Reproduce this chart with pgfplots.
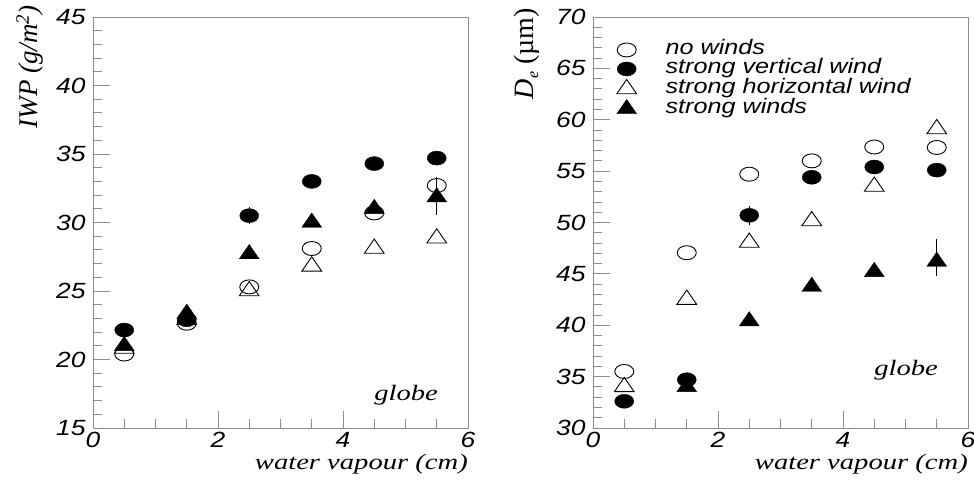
\documentclass[border=0pt]{standalone}
\usepackage{fontspec}
\setmainfont{Liberation Serif}
\newfontfamily\tickfont[FakeStretch=1.2]{Liberation Sans}
\newfontfamily\labfont[FakeStretch=1.3]{Liberation Serif}
\usepackage{pgfplots}
\pgfplotsset{compat=1.18}
\newcommand\tk{\tickfont\itshape\fontsize{22}{22}\selectfont}
\definecolor{axgray}{RGB}{140,140,140}
\pgfplotsset{
  myax/.style={
    scale only axis, width=375pt, height=411pt,
    xmin=0, xmax=6, xtick={0,2,4,6}, minor x tick num=3,
    axis line style={axgray, line width=0.9pt},
    every tick/.style={axgray, line width=0.9pt},
    major tick length=17pt, minor tick length=9pt,
    tick align=inside, xtick pos=lower, ytick pos=left,
    ticklabel style={font=\tk, black},
    yticklabel style={xshift=-4pt},
    xticklabel style={yshift=-1pt},
    /pgf/number format/assume math mode=true,
    clip=false,
    xlabel={water vapour (cm)},
    xlabel style={font=\labfont\itshape\fontsize{22}{22}\selectfont, at={(axis description cs:1,0)}, anchor=north east, yshift=-26pt, inner sep=0pt},
  },
  oc/.style={only marks, mark=o, mark size=7pt, mark options={xscale=1.36, black, line width=0.9pt}},
  fc/.style={only marks, mark=*, mark size=7pt, mark options={xscale=1.36, black, fill=black}},
  ot/.style={only marks, mark=triangle, mark size=9.5pt, mark options={xscale=1.2, black, line width=0.9pt}},
  ft/.style={only marks, mark=triangle*, mark size=9.5pt, mark options={xscale=1.2, black, fill=black}},
  eb/.style={error bars/.cd, y dir=both, y explicit, error bar style={black, line width=0.9pt}, error mark=none},
}
\begin{document}
\begin{tikzpicture}
\useasboundingbox (0,0) rectangle (974pt,483pt);
% ---------- left panel ----------
\begin{axis}[myax, at={(93pt,55pt)}, anchor=south west,
  ymin=15, ymax=45, ytick={15,20,...,45}, minor y tick num=4]
\addplot[oc] coordinates {(0.5,20.4) (1.5,22.65) (2.5,25.3) (3.5,28.1) (4.5,30.7) (5.5,32.7)};
\addplot[fc, eb] coordinates {(0.5,22.15) (1.5,22.9) (2.5,30.5) +- (0,0.6) (3.5,33.0) (4.5,34.3) (5.5,34.7)};
\addplot[ot] coordinates {(0.5,20.8) (1.5,22.9) (2.5,25.0) (3.5,26.8) (4.5,28.1) (5.5,28.85)};
\addplot[ft, eb] coordinates {(0.5,21.0) (1.5,23.35) (2.5,27.7) (3.5,30.0) (4.5,31.0) (5.5,31.85) += (0,1.45) -= (0,1.3)};
\node[font=\labfont\itshape\fontsize{22}{22}\selectfont, anchor=base east, inner sep=0pt] at (rel axis cs:0.92,0.068) {globe};
\node[font=\fontsize{27}{27}\selectfont\itshape, rotate=90, anchor=east, inner sep=0pt] at ([xshift=-63pt,yshift=12pt]rel axis cs:0,1) {IWP (g/m\textsuperscript{2})};
\end{axis}
% ---------- right panel ----------
\begin{axis}[myax, at={(593pt,55pt)}, anchor=south west,
  ymin=30, ymax=70, ytick={30,35,...,70}, minor y tick num=4,
  legend style={at={(rel axis cs:0.063,0.941)}, anchor=north west, draw=none, fill=none, inner sep=0pt,
    font=\tickfont\itshape\fontsize{21}{21}\selectfont, row sep=2pt,
    nodes={inner sep=0pt, text height=13pt, text depth=4pt},
    /tikz/every odd column/.style={column sep=29pt}},
  legend cell align=left]
\addplot[oc] coordinates {(0.5,35.5) (1.5,47.06) (2.5,54.7) (3.5,56.0) (4.5,57.35) (5.5,57.3)};
\addlegendentry{no winds}
\addplot[fc, eb] coordinates {(0.5,32.6) (1.5,34.7) (2.5,50.7) +- (0,0.9) (3.5,54.4) (4.5,55.4) (5.5,55.1)};
\addlegendentry{strong vertical wind}
\addplot[ot] coordinates {(0.5,34.0) (1.5,42.5) (2.5,48.05) (3.5,50.15) (4.5,53.5) (5.5,59.1)};
\addlegendentry{strong horizontal wind}
\addplot[ft, eb] coordinates {(1.5,34.0) (2.5,40.4) (3.5,43.75) (4.5,45.2) (5.5,46.2) += (0,2.2) -= (0,1.4)};
\addlegendentry{strong winds}
\node[font=\labfont\itshape\fontsize{22}{22}\selectfont, anchor=base east, inner sep=0pt] at (rel axis cs:0.92,0.127) {globe};
\node[font=\fontsize{28}{28}\selectfont, rotate=90, anchor=east, inner sep=0pt] at ([xshift=-66pt,yshift=9pt]rel axis cs:0,1) {\textit{D}\raisebox{-0.35ex}{\fontsize{16}{16}\selectfont\itshape e} (µm)};
\end{axis}
\end{tikzpicture}
\end{document}
